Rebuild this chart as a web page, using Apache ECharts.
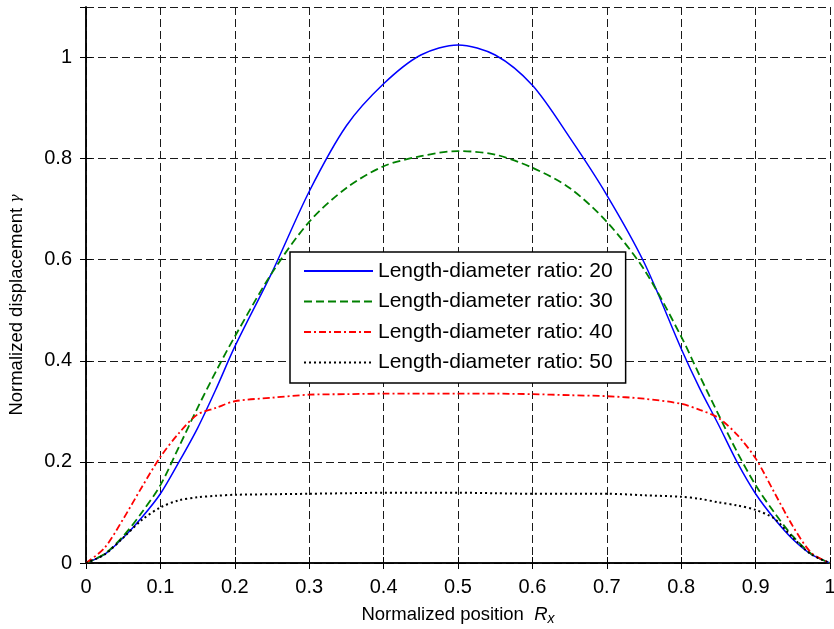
<!DOCTYPE html>
<html>
<head>
<meta charset="utf-8">
<script src="https://cdn.jsdelivr.net/npm/echarts@6/dist/echarts.min.js"></script>
<style>html,body{margin:0;padding:0;background:#fff;}#c{width:834px;height:629px;}</style>
</head>
<body>
<div id="c"></div>
<script>
const positions = [0,0.025,0.05,0.075,0.1,0.125,0.15,0.175,0.2,0.25,0.3,0.35,0.4,0.45,0.5,0.55,0.6,0.65,0.7,0.75,0.8,0.825,0.85,0.875,0.9,0.925,0.95,0.975,1];
const ratio20 = [0,0.017,0.05,0.09,0.137,0.2,0.267,0.345,0.428,0.575,0.735,0.865,0.948,1.005,1.025,1.005,0.945,0.842,0.728,0.595,0.424,0.345,0.274,0.2,0.137,0.088,0.047,0.017,0];
const ratio30 = [0,0.018,0.053,0.1,0.154,0.23,0.307,0.38,0.448,0.574,0.675,0.742,0.785,0.805,0.815,0.808,0.782,0.742,0.675,0.581,0.448,0.37,0.294,0.22,0.154,0.1,0.053,0.018,0];
const ratio40 = [0,0.03,0.087,0.15,0.21,0.257,0.294,0.307,0.32,0.327,0.333,0.334,0.335,0.335,0.335,0.335,0.334,0.332,0.33,0.325,0.315,0.303,0.287,0.254,0.207,0.14,0.073,0.02,0];
const ratio50 = [0,0.017,0.05,0.085,0.11,0.124,0.13,0.133,0.135,0.136,0.137,0.138,0.139,0.139,0.139,0.138,0.137,0.137,0.137,0.134,0.131,0.127,0.12,0.114,0.105,0.088,0.05,0.017,0];
const seriesNames = ['Length-diameter ratio: 20','Length-diameter ratio: 30','Length-diameter ratio: 40','Length-diameter ratio: 50'];
const xTicks = [0,0.1,0.2,0.3,0.4,0.5,0.6,0.7,0.8,0.9,1];
const yTicks = [0,0.2,0.4,0.6,0.8,1];

const FONT = 'Liberation Sans, Arial, sans-serif';
const pair = arr => positions.map((x,i)=>[x,arr[i]]);
const styles = [
  {color:'#0000ff', type:'solid', width:1.5},
  {color:'#008000', type:[8,4], width:1.8},
  {color:'#ff0000', type:[7,3,2,3], width:1.8},
  {color:'#000000', type:[2,3], width:2}
];
const dataSets = [ratio20, ratio30, ratio40, ratio50];
const chart = echarts.init(document.getElementById('c'), null, {renderer:'canvas'});
const gridDash = {color:'#1a1a1a', width:1, type:[8,4]};
chart.setOption({
  animation:false,
  backgroundColor:'#fff',
  grid:{left:86, right:4, top:7, bottom:66, containLabel:false, outerBoundsMode:'none'},
  legend:{
    orient:'vertical', left:290, top:252,
    data:seriesNames,
    itemWidth:69, itemHeight:14, itemGap:9.5,
    padding:[8.5,13,10,13],
    itemStyle:{opacity:0},
    backgroundColor:'#fff', borderColor:'#000', borderWidth:1.5,
    textStyle:{fontFamily:FONT, fontSize:21, color:'#000'}
  },
  xAxis:[{
    type:'value', min:0, max:1, interval:0.1,
    axisLine:{show:true, lineStyle:{color:'#000', width:1.5}},
    axisTick:{show:true, inside:true, length:6, lineStyle:{color:'#000'}},
    axisLabel:{fontFamily:FONT, fontSize:20, color:'#000', margin:14,
      formatter:v=>{const t=xTicks.find(k=>Math.abs(k-v)<1e-9);return t===undefined?'':String(t);}},
    splitLine:{show:true, lineStyle:gridDash},
    name:'Normalized position  {i|R}{s|x}', nameLocation:'middle', nameGap:41,
    nameTextStyle:{fontFamily:FONT, fontSize:18.5, color:'#000',
      rich:{i:{fontFamily:FONT, fontSize:18.5, fontStyle:'italic', color:'#000'},
            s:{fontFamily:FONT, fontSize:14, fontStyle:'italic', color:'#000', verticalAlign:'bottom', padding:[8,0,0,0]}}}
  },{
    type:'value', min:0, max:1, interval:0.1, position:'top',
    axisLine:{show:true, lineStyle:{color:'#000', width:1.5}},
    axisTick:{show:true, inside:true, length:6, lineStyle:{color:'#000'}},
    axisLabel:{show:false}, splitLine:{show:false}
  }],
  yAxis:[{
    type:'value', min:0, max:1.1, interval:0.2,
    axisLine:{show:true, lineStyle:{color:'#000', width:1.5}},
    axisTick:{show:true, inside:true, length:6, lineStyle:{color:'#000'}},
    axisLabel:{fontFamily:FONT, fontSize:20, color:'#000', margin:14, showMaxLabel:false,
      formatter:v=>{const t=yTicks.find(k=>Math.abs(k-v)<1e-9);return t===undefined?'':String(t);}},
    splitLine:{show:true, lineStyle:gridDash},
    name:'Normalized displacement {g|γ}', nameLocation:'middle', nameGap:60,
    nameTextStyle:{fontFamily:FONT, fontSize:18.5, color:'#000', padding:[0,40,0,0],
      rich:{g:{fontFamily:'DejaVu Serif', fontSize:14, fontStyle:'italic', color:'#000'}}}
  },{
    type:'value', min:0, max:1.1, interval:0.2, position:'right',
    axisLine:{show:true, lineStyle:{color:'#000', width:1.5}},
    axisTick:{show:true, inside:true, length:6, lineStyle:{color:'#000'}},
    axisLabel:{show:false}, splitLine:{show:false}
  }],
  series: dataSets.map((d,i)=>({
    name:seriesNames[i], type:'line', xAxisIndex:0, yAxisIndex:0,
    data:pair(d), symbol:'none', smooth:0.3,
    lineStyle:{color:styles[i].color, type:styles[i].type, width:styles[i].width},
    itemStyle:{color:styles[i].color},
    z:3
  }))
});
</script>
</body>
</html>
